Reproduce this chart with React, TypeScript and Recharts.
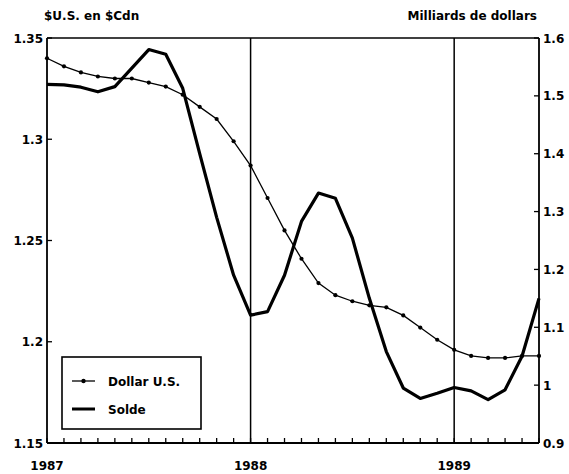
import { LineChart, Line, XAxis, YAxis, ReferenceLine } from 'recharts';

// Monthly, Jan 1987 to Jun 1989
const months = [
  '1987-01', '1987-02', '1987-03', '1987-04', '1987-05', '1987-06',
  '1987-07', '1987-08', '1987-09', '1987-10', '1987-11', '1987-12',
  '1988-01', '1988-02', '1988-03', '1988-04', '1988-05', '1988-06',
  '1988-07', '1988-08', '1988-09', '1988-10', '1988-11', '1988-12',
  '1989-01', '1989-02', '1989-03', '1989-04', '1989-05', '1989-06',
];

// $U.S. en $Cdn (left axis)
const dollar = [
  1.34, 1.336, 1.333, 1.331, 1.330, 1.330, 1.328, 1.326, 1.322, 1.316,
  1.310, 1.299, 1.287, 1.271, 1.255, 1.241, 1.229, 1.223, 1.220, 1.218,
  1.217, 1.213, 1.207, 1.201, 1.196, 1.193, 1.192, 1.192, 1.193, 1.193,
];

// Milliards de dollars (right axis)
const solde = [
  1.52, 1.519, 1.515, 1.507, 1.516, 1.548, 1.58, 1.572, 1.513, 1.40,
  1.29, 1.19, 1.121, 1.127, 1.19, 1.283, 1.332, 1.323, 1.254, 1.15,
  1.058, 0.995, 0.977, 0.986, 0.996, 0.99, 0.975, 0.992, 1.05, 1.15,
];

const leftTicks = [1.15, 1.2, 1.25, 1.3, 1.35];
const rightTicks = [0.9, 1, 1.1, 1.2, 1.3, 1.4, 1.5, 1.6];
const yearLines = ['1988-01', '1989-01'];

const data = months.map((m, i) => ({ month: m, dollar: dollar[i], solde: solde[i] }));

const font = { fontFamily: '"DejaVu Sans", sans-serif', fontWeight: 700, fontSize: 12, fill: '#000' };

const XTick = ({ x, y, payload }: any) => {
  const v: string = payload.value;
  return (
    <g>
      <line x1={x} x2={x} y1={y} y2={y - 5} stroke="#000" strokeWidth={1.3} />
      {v.endsWith('-01') && (
        <text x={x} y={y + 27} textAnchor="middle" {...font}>{v.slice(0, 4)}</text>
      )}
    </g>
  );
};

const LeftTick = ({ x, y, payload }: any) => (
  <g>
    <line x1={x} x2={x + 5} y1={y} y2={y} stroke="#000" strokeWidth={1.3} />
    <text x={x - 4} y={y} dy={4.5} textAnchor="end" {...font}>{String(payload.value)}</text>
  </g>
);

const RightTick = ({ x, y, payload }: any) => (
  <g>
    <line x1={x} x2={x - 5} y1={y} y2={y} stroke="#000" strokeWidth={1.3} />
    <text x={x + 4} y={y} dy={4.5} textAnchor="start" {...font}>{String(payload.value)}</text>
  </g>
);

function LegendBox() {
  return (
    <svg width={141} height={74} style={{ position: 'absolute', left: 61, top: 356 }}>
      <rect x={1} y={1} width={139} height={72} fill="#fff" stroke="#000" strokeWidth={1.6} />
      <line x1={11} x2={34} y1={25} y2={25} stroke="#000" strokeWidth={1.3} />
      <circle cx={22.5} cy={25} r={2.2} fill="#000" />
      <text x={47} y={29.5} {...font}>Dollar U.S.</text>
      <line x1={11} x2={34} y1={53} y2={53} stroke="#000" strokeWidth={3} />
      <text x={47} y={57.5} {...font}>Solde</text>
    </svg>
  );
}

export default function App() {
  return (
    <div style={{ position: 'absolute', left: 0, top: 0, width: 569, height: 474, background: '#fff' }}>
      <div style={{ position: 'absolute', left: 44, top: 9, ...titleStyle }}>$U.S. en $Cdn</div>
      <div style={{ position: 'absolute', right: 32, top: 9, ...titleStyle }}>Milliards de dollars</div>
      <LineChart width={569} height={474} data={data} margin={{ top: 38, right: 0, bottom: 0, left: 0 }}>
        <XAxis
          dataKey="month" interval={0} height={31}
          tickSize={0} tickMargin={0} tickLine={false}
          tick={<XTick />} axisLine={{ stroke: '#000', strokeWidth: 1.8 }}
        />
        <YAxis
          yAxisId="left" orientation="left" width={47}
          domain={[1.15, 1.35]} ticks={leftTicks} interval={0}
          tickSize={0} tickMargin={0} tickLine={false}
          tick={<LeftTick />} axisLine={{ stroke: '#000', strokeWidth: 1.8 }}
        />
        <YAxis
          yAxisId="right" orientation="right" width={30}
          domain={[0.9, 1.6]} ticks={rightTicks} interval={0}
          tickSize={0} tickMargin={0} tickLine={false}
          tick={<RightTick />} axisLine={{ stroke: '#000', strokeWidth: 1.8 }}
        />
        <ReferenceLine yAxisId="left" y={1.35} stroke="#000" strokeWidth={1.6} />
        {yearLines.map(m => (
          <ReferenceLine key={m} yAxisId="left" x={m} stroke="#000" strokeWidth={1.5} />
        ))}
        <Line
          yAxisId="left" type="linear" dataKey="dollar" stroke="#000" strokeWidth={1.3}
          dot={{ r: 2.1, fill: '#000', stroke: '#000', strokeWidth: 0 }} isAnimationActive={false}
        />
        <Line
          yAxisId="right" type="linear" dataKey="solde" stroke="#000" strokeWidth={3.2}
          strokeLinejoin="round" dot={false} isAnimationActive={false}
        />
      </LineChart>
      <LegendBox />
    </div>
  );
}

const titleStyle: React.CSSProperties = {
  fontFamily: '"DejaVu Sans", sans-serif', fontWeight: 700, fontSize: 12, color: '#000', lineHeight: '14px',
};
